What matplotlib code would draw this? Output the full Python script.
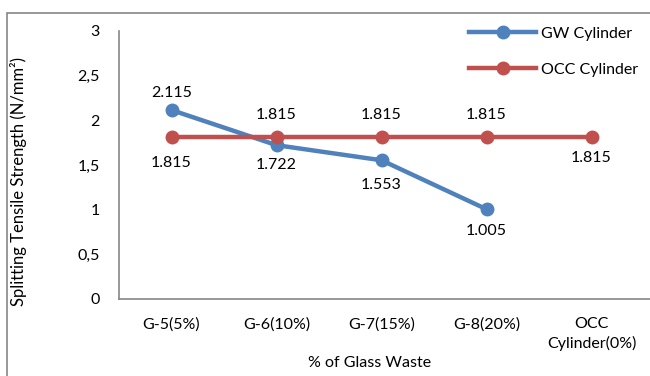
import matplotlib
matplotlib.use('Agg')
import matplotlib.pyplot as plt
from matplotlib.patches import Rectangle

categories = ['G-5(5%)', 'G-6(10%)', 'G-7(15%)', 'G-8(20%)', 'OCC\nCylinder(0%)']
gw_values = [2.115, 1.722, 1.553, 1.005]
occ_values = [1.815, 1.815, 1.815, 1.815, 1.815]
y_ticks = [0, 0.5, 1, 1.5, 2, 2.5, 3]
y_ticklabels = ['0', '0,5', '1', '1,5', '2', '2,5', '3']

plt.rcParams['font.family'] = ['Lato', 'DejaVu Sans']
fs = 11.5
blue = '#4F81BD'
red = '#C0504D'
grey = '#868686'

fig = plt.figure(figsize=(6.5, 3.76), dpi=100)
# outer chart border
fig.patches.append(Rectangle((7/650, -0.1), 1.1, 1 - 13/376 + 0.1,
                             transform=fig.transFigure, fill=False,
                             edgecolor=grey, linewidth=1.2))
ax = fig.add_axes([119/650, 1 - 299/376, 525/650, 268/376])

xs = list(range(len(categories)))
ax.plot(xs[:len(gw_values)], gw_values, color=blue, lw=3.2, marker='o',
        markersize=9, label='GW Cylinder', zorder=3)
ax.plot(xs, occ_values, color=red, lw=3.2, marker='o',
        markersize=9, label='OCC Cylinder', zorder=4)

# value labels (offsets in points)
gw_off = [12, -14, -18, -16]
occ_off = [-19, 16, 16, 16, -15]
for x, v, off in zip(xs, gw_values, gw_off):
    ax.annotate(f'{v:.3f}', (x, v), xytext=(0, off), textcoords='offset points',
                ha='center', va='center', fontsize=fs)
for x, v, off in zip(xs, occ_values, occ_off):
    ax.annotate(f'{v:.3f}', (x, v), xytext=(0, off), textcoords='offset points',
                ha='center', va='center', fontsize=fs)

ax.set_xlim(-0.5, len(categories) - 0.5)
ax.set_ylim(0, 3)
ax.set_xticks(xs)
ax.set_xticklabels(categories, fontsize=fs, linespacing=1.4)
ax.set_yticks(y_ticks)
ax.set_yticklabels(y_ticklabels, fontsize=fs)
ax.tick_params(axis='both', length=0)
ax.tick_params(axis='x', pad=13)
ax.tick_params(axis='y', pad=14)
for s in ['top', 'right']:
    ax.spines[s].set_visible(False)
for s in ['left', 'bottom']:
    ax.spines[s].set_color(grey)
    ax.spines[s].set_linewidth(1.2)
ax.spines['bottom'].set_bounds(-0.5, len(categories))

ax.set_xlabel('% of Glass Waste', fontsize=fs)
ax.xaxis.set_label_coords(0.478, -0.213)
ax.set_ylabel('Splitting Tensile Strength (N/mm²)', fontsize=fs + 0.5)
ax.yaxis.set_label_coords(-0.176, 0.44)

ax.legend(loc='upper left', bbox_to_anchor=(0.64, 1.07), frameon=False,
          fontsize=fs, handlelength=4.2, labelspacing=1.35, handletextpad=0.3)

fig.savefig('out.png', dpi=100)
